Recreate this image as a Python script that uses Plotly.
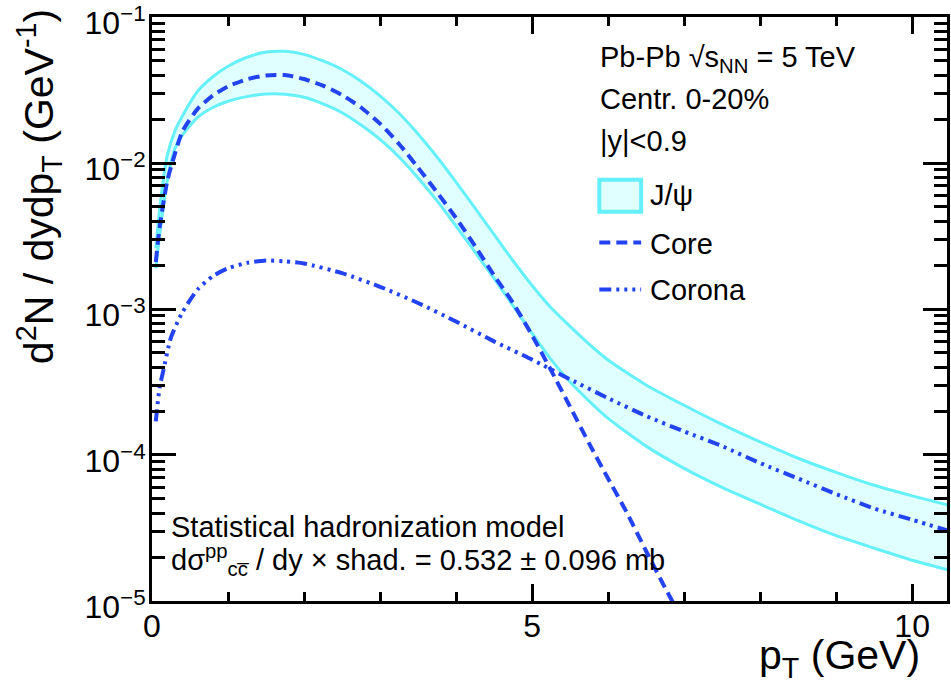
import plotly.graph_objects as go

# ---------------- data ----------------
pt_band = [0.05, 0.1, 0.2, 0.3, 0.4, 0.6, 0.8, 1.0, 1.25, 1.5, 1.75, 2.0, 2.25, 2.5, 2.75,
           3.0, 3.25, 3.5, 3.75, 4.0, 4.25, 4.5, 4.75, 5.0, 5.25, 5.5, 5.75, 6.0, 6.5,
           7.0, 7.5, 8.0, 8.5, 9.0, 9.5, 10.0, 10.5]
jpsi_upper = [2.6e-3, 4.8e-3, 1.12e-2, 1.65e-2, 2.1e-2, 3.1e-2, 3.9e-2, 4.6e-2, 5.3e-2, 5.75e-2,
              5.82e-2, 5.55e-2, 5.0e-2, 4.37e-2, 3.63e-2, 2.88e-2, 2.19e-2, 1.58e-2, 1.10e-2,
              7.4e-3, 4.9e-3, 3.24e-3, 2.14e-3, 1.45e-3, 1.02e-3, 7.6e-4, 5.75e-4, 4.47e-4,
              3.02e-4, 2.19e-4, 1.62e-4, 1.23e-4, 9.5e-5, 7.6e-5, 6.2e-5, 5.25e-5, 4.5e-5]
jpsi_lower = [1.9e-3, 3.2e-3, 7.5e-3, 1.25e-2, 1.55e-2, 2.05e-2, 2.4e-2, 2.65e-2, 2.85e-2,
              2.97e-2, 2.96e-2, 2.82e-2, 2.54e-2, 2.21e-2, 1.82e-2, 1.45e-2, 1.10e-2, 7.9e-3,
              5.5e-3, 3.7e-3, 2.45e-3, 1.62e-3, 1.05e-3, 6.8e-4, 4.5e-4, 3.16e-4, 2.34e-4,
              1.78e-4, 1.15e-4, 8.1e-5, 6.0e-5, 4.6e-5, 3.55e-5, 2.8e-5, 2.3e-5, 1.9e-5, 1.62e-5]

pt_core = [0.05, 0.1, 0.2, 0.3, 0.4, 0.6, 0.8, 1.0, 1.25, 1.5, 1.75, 2.0, 2.25, 2.5, 2.75,
           3.0, 3.25, 3.5, 3.75, 4.0, 4.25, 4.5, 4.75, 5.0, 5.25, 5.5, 5.75, 6.0, 6.25,
           6.5, 6.75, 7.0]
core = [2.1e-3, 3.6e-3, 7.5e-3, 1.15e-2, 1.65e-2, 2.35e-2, 2.9e-2, 3.35e-2, 3.75e-2, 3.98e-2,
        4.0e-2, 3.76e-2, 3.39e-2, 2.92e-2, 2.40e-2, 1.86e-2, 1.35e-2, 9.3e-3, 6.3e-3, 4.2e-3,
        2.7e-3, 1.7e-3, 1.1e-3, 6.6e-4, 3.8e-4, 2.14e-4, 1.2e-4, 6.9e-5, 4.0e-5, 2.2e-5,
        1.23e-5, 7.1e-6]

pt_corona = [0.05, 0.1, 0.15, 0.25, 0.4, 0.6, 0.8, 1.0, 1.25, 1.5, 1.75, 2.0, 2.5, 3.0, 3.5,
             4.0, 4.5, 5.0, 5.5, 6.0, 6.5, 7.0, 7.5, 8.0, 8.5, 9.0, 9.5, 10.0, 10.5]
corona = [1.7e-4, 2.9e-4, 3.8e-4, 6.4e-4, 9.5e-4, 1.36e-3, 1.68e-3, 1.9e-3, 2.07e-3, 2.15e-3,
          2.12e-3, 2.05e-3, 1.76e-3, 1.42e-3, 1.1e-3, 8.2e-4, 6.0e-4, 4.5e-4, 3.3e-4,
          2.45e-4, 1.85e-4, 1.45e-4, 1.15e-4, 8.8e-5, 6.9e-5, 5.4e-5, 4.3e-5, 3.6e-5, 3.0e-5]

x_major = [0, 5, 10]
x_minor = [1, 2, 3, 4, 6, 7, 8, 9]
y_major = [1e-5, 1e-4, 1e-3, 1e-2, 1e-1]
y_major_text = ["10<sup>\u22125</sup>", "10<sup>\u22124</sup>", "10<sup>\u22123</sup>",
                "10<sup>\u22122</sup>", "10<sup>\u22121</sup>"]
y_minor = [m * 10.0 ** e for e in range(-5, -1) for m in range(2, 10)]

# ---------------- style ----------------
W, H = 951, 699
ML, MR, MT, MB = 152, 1, 16, 98
PW, PH = W - ML - MR, H - MT - MB
CYAN = "#66f0fa"
FILL = "#e0ffff"
BLUE = "#2443f0"
FONT = "Liberation Sans, Arial, sans-serif"
NARROW = "Liberation Sans Narrow, Liberation Sans, Arial, sans-serif"
CORE_DASH = "11px,6px"
CORONA_DASH = "12px,5px,3px,5px,3px,5px,3px,5px"


def px(x):
    return (x - ML) / PW


def py(y):
    return (MT + PH - y) / PH


fig = go.Figure()
fig.add_trace(go.Scatter(x=pt_band, y=jpsi_lower, mode="lines", line=dict(color=CYAN, width=3,
                         shape="spline", smoothing=0.6), showlegend=False, hoverinfo="skip"))
fig.add_trace(go.Scatter(x=pt_band, y=jpsi_upper, mode="lines", fill="tonexty", fillcolor=FILL,
                         line=dict(color=CYAN, width=3, shape="spline", smoothing=0.6),
                         showlegend=False, name="J/\u03c8"))
fig.add_trace(go.Scatter(x=pt_core, y=core, mode="lines", name="Core",
                         line=dict(color=BLUE, width=4, dash=CORE_DASH, shape="spline", smoothing=0.6),
                         showlegend=False))
fig.add_trace(go.Scatter(x=pt_corona, y=corona, mode="lines", name="Corona",
                         line=dict(color=BLUE, width=4, dash=CORONA_DASH, shape="spline", smoothing=0.6),
                         showlegend=False))

fig.update_xaxes(range=[0, PW / 76.3], showgrid=False, zeroline=False, showline=True,
                 linecolor="black", linewidth=3, mirror="allticks", ticks="inside",
                 tickmode="array", tickvals=x_major, ticktext=[str(v) for v in x_major],
                 ticklen=17, tickwidth=3, tickcolor="black", ticklabelstandoff=-5,
                 tickfont=dict(family=NARROW, size=32, color="black"),
                 minor=dict(tickmode="array", tickvals=x_minor, ticks="inside", ticklen=9,
                            tickwidth=3, tickcolor="black", showgrid=False))
fig.update_yaxes(type="log", range=[-5.0001, -0.9999], showgrid=False, zeroline=False, showline=True,
                 linecolor="black", linewidth=3, mirror="allticks", ticks="inside",
                 tickmode="array", tickvals=y_major, ticktext=y_major_text,
                 ticklen=24, tickwidth=3, tickcolor="black", ticklabelstandoff=-3,
                 ticklabelshift=6, ticklabeloverflow="allow",
                 tickfont=dict(family=NARROW, size=32, color="black"),
                 minor=dict(tickmode="array", tickvals=y_minor, ticks="inside", ticklen=13,
                            tickwidth=3, tickcolor="black", showgrid=False))

ann = []
# axis titles
ann.append(dict(text="p<sub>T</sub> (GeV)", x=px(925), y=py(658), xanchor="right", yanchor="middle",
                font=dict(family=NARROW, size=41, color="black")))
ann.append(dict(text="d<sup>2</sup>N / dydp<sub>T</sub> (GeV<sup>-1</sup>)", x=px(38), y=py(186),
                xanchor="center", yanchor="middle", textangle=-90,
                font=dict(family=NARROW, size=41, color="black")))
# labels
TF = dict(family=FONT, size=29, color="black")
ann.append(dict(text="Pb-Pb \u221as<sub>NN</sub> = 5 TeV", x=px(600), y=py(58), xanchor="left",
                yanchor="middle", font=TF))
ann.append(dict(text="Centr. 0-20%", x=px(600), y=py(98), xanchor="left", yanchor="middle", font=TF))
ann.append(dict(text="|y|<0.9", x=px(600), y=py(140), xanchor="left", yanchor="middle", font=TF))
ann.append(dict(text="J/\u03c8", x=px(650), y=py(194), xanchor="left", yanchor="middle", font=TF))
ann.append(dict(text="Core", x=px(650), y=py(243), xanchor="left", yanchor="middle", font=TF))
ann.append(dict(text="Corona", x=px(650), y=py(289), xanchor="left", yanchor="middle", font=TF))
ann.append(dict(text="Statistical hadronization model", x=px(169), y=py(527), xanchor="left",
                yanchor="middle", font=TF))
ann.append(dict(text="d\u03c3<sup>pp</sup><sub>cc\u0305</sub> / dy \u00d7 shad. = 0.532 \u00b1 0.096 mb",
                x=px(169), y=py(560), xanchor="left", yanchor="middle", font=TF))
for a in ann:
    a.update(xref="paper", yref="paper", showarrow=False)

shapes = [
    dict(type="rect", x0=px(601), x1=px(643), y0=py(179), y1=py(211), fillcolor=FILL,
         line=dict(color=CYAN, width=4)),
    dict(type="line", x0=px(601), x1=px(643), y0=py(242), y1=py(242),
         line=dict(color=BLUE, width=4, dash=CORE_DASH)),
    dict(type="line", x0=px(601), x1=px(643), y0=py(289), y1=py(289),
         line=dict(color=BLUE, width=4, dash=CORONA_DASH)),
]
for s in shapes:
    s.update(xref="paper", yref="paper")

fig.update_layout(width=W, height=H, margin=dict(l=ML, r=MR, t=MT, b=MB, pad=0),
                  paper_bgcolor="white", plot_bgcolor="white", showlegend=False,
                  annotations=ann, shapes=shapes)

fig.write_html("out.html", config={"displayModeBar": False},
               post_script="document.body.style.margin='0px';document.body.style.padding='0px';")
